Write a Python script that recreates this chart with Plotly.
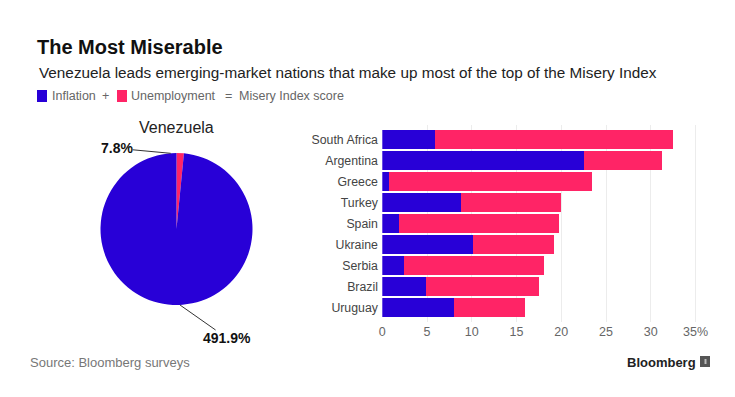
import plotly.graph_objects as go

W, H = 735, 397

# ---- data ----
countries = ["South Africa", "Argentina", "Greece", "Turkey", "Spain",
             "Ukraine", "Serbia", "Brazil", "Uruguay"]
inflation = [5.9, 22.5, 0.8, 8.8, 1.9, 10.1, 2.4, 4.9, 8.0]
unemployment = [26.6, 8.7, 22.6, 11.2, 17.9, 9.1, 15.7, 12.6, 8.0]

pie_labels = ["Unemployment", "Inflation"]
pie_values = [7.8, 491.9]
pie_text = ["7.8%", "491.9%"]

tick_vals = [0, 5, 10, 15, 20, 25, 30, 35]
tick_text = ["0", "5", "10", "15", "20", "25", "30", "35%"]

BLUE = "#2800d7"
RED = "#ff2466"
FONT = "Liberation Sans, Arial, sans-serif"


def px_x(x):
    return x / W


def px_y(y):
    return 1 - y / H


fig = go.Figure()

fig.add_trace(go.Bar(
    y=countries, x=inflation, orientation="h", name="Inflation",
    marker=dict(color=BLUE, line=dict(width=0)),
    xaxis="x", yaxis="y", hoverinfo="x+y"))
fig.add_trace(go.Bar(
    y=countries, x=unemployment, orientation="h", name="Unemployment",
    marker=dict(color=RED, line=dict(width=0)),
    xaxis="x", yaxis="y", hoverinfo="x+y"))

fig.add_trace(go.Pie(
    labels=pie_labels, values=pie_values, sort=False, direction="counterclockwise",
    rotation=0, textinfo="none", marker=dict(colors=[RED, BLUE], line=dict(width=0)),
    domain=dict(x=[px_x(100.5), px_x(252.5)], y=[px_y(305), px_y(153)]),
    showlegend=False))

fig.update_layout(
    width=W, height=H, autosize=False,
    margin=dict(l=0, r=0, t=0, b=0),
    paper_bgcolor="white", plot_bgcolor="white",
    barmode="stack", bargap=0.12, showlegend=False,
    font=dict(family=FONT, color="#333"),
    xaxis=dict(domain=[px_x(382.3), px_x(700)], range=[0, 35.5],
               tickvals=tick_vals, ticktext=tick_text,
               showgrid=True, gridcolor="#ececec", gridwidth=1,
               zeroline=False, showline=False, ticks="", automargin=False,
               tickfont=dict(size=12.5, color="#666"), fixedrange=True),
    yaxis=dict(domain=[px_y(322), px_y(125)], range=[8.69, -0.69],
               showgrid=False, zeroline=False, showline=False, ticks="",
               ticksuffix=" ", tickfont=dict(size=12.3, color="#444"),
               automargin=False, fixedrange=True),
)


def note(text, x, y, size, color, xanchor="left", bold=False):
    return dict(text=("<b>%s</b>" % text) if bold else text,
                x=px_x(x), y=px_y(y), xref="paper", yref="paper",
                xanchor=xanchor, yanchor="middle", showarrow=False,
                borderpad=0, borderwidth=0,
                font=dict(size=size, color=color, family=FONT))


ann = [
    note("The Most Miserable", 37, 47, 20, "#111", bold=True),
    note("Venezuela leads emerging-market nations that make up most of the top of the Misery Index",
         39, 72, 15.3, "#222"),
    note("Inflation", 52, 96, 12.5, "#666"),
    note("+", 105, 96, 12.5, "#666", xanchor="center"),
    note("Unemployment", 131, 96, 12.5, "#666"),
    note("=", 228, 96, 12.5, "#666", xanchor="center"),
    note("Misery Index score", 239, 96, 12.5, "#666"),
    note("Venezuela", 176.5, 127, 16, "#222", xanchor="center"),
    note("Source: Bloomberg surveys", 30, 362, 13, "#777"),
    note("Bloomberg", 696, 362, 13, "#222", xanchor="right", bold=True),
]
ann.append(dict(text="<b>" + pie_text[0] + "</b>", x=px_x(170.7), y=px_y(153.3),
                xref="paper", yref="paper",
                ax=-54, ay=-5, xanchor="center", yanchor="middle",
                showarrow=True, arrowhead=0, arrowwidth=1, arrowcolor="#333",
                borderpad=0, borderwidth=0,
                font=dict(size=14, color="#111", family=FONT)))
ann.append(dict(text="<b>" + pie_text[1] + "</b>", x=px_x(180), y=px_y(305),
                xref="paper", yref="paper",
                ax=47, ay=33, xanchor="center", yanchor="middle",
                showarrow=True, arrowhead=0, arrowwidth=1, arrowcolor="#333",
                borderpad=0, borderwidth=0,
                font=dict(size=14, color="#111", family=FONT)))
fig.update_layout(annotations=ann)

shapes = [
    dict(type="rect", xref="paper", yref="paper",
         x0=px_x(37), x1=px_x(47), y0=px_y(102), y1=px_y(90),
         fillcolor=BLUE, line=dict(width=0)),
    dict(type="rect", xref="paper", yref="paper",
         x0=px_x(117), x1=px_x(127), y0=px_y(102), y1=px_y(90),
         fillcolor=RED, line=dict(width=0)),
    dict(type="rect", xref="paper", yref="paper",
         x0=px_x(700), x1=px_x(710), y0=px_y(367), y1=px_y(356),
         fillcolor="#555", line=dict(width=0)),
    dict(type="rect", xref="paper", yref="paper",
         x0=px_x(704.5), x1=px_x(706.5), y0=px_y(364), y1=px_y(359),
         fillcolor="#bbb", line=dict(width=0)),
]
fig.update_layout(shapes=shapes)

fig.write_html("out.html", config={"displayModeBar": False},
               post_script="document.body.style.margin='0';document.body.style.overflow='hidden';")
